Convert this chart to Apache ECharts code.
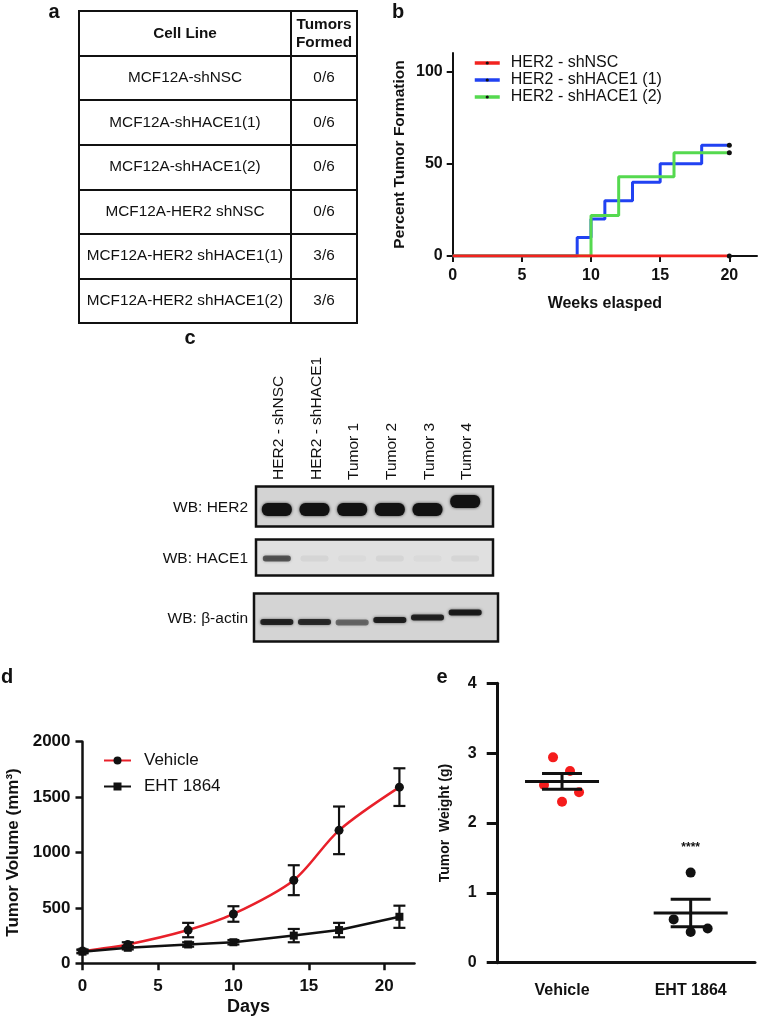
<!DOCTYPE html>
<html><head><meta charset="utf-8">
<script src="https://cdn.jsdelivr.net/npm/echarts@6/dist/echarts.min.js"></script>
<style>html,body{margin:0;padding:0;background:#fff}#c{width:758px;height:1020px}</style>
</head><body><div id="c"></div>
<script>
// ---------- Panel a : table ----------
const tableHeader = ['Cell Line', 'Tumors\nFormed'];
const cellLines = ['MCF12A-shNSC', 'MCF12A-shHACE1(1)', 'MCF12A-shHACE1(2)', 'MCF12A-HER2 shNSC', 'MCF12A-HER2 shHACE1(1)', 'MCF12A-HER2 shHACE1(2)'];
const tumorsFormed = ['0/6', '0/6', '0/6', '0/6', '3/6', '3/6'];

// ---------- Panel b : tumor formation ----------
const seriesNamesB = ['HER2 - shNSC', 'HER2 - shHACE1 (1)', 'HER2 - shHACE1 (2)'];
const weeksShNSC = [0, 20];
const pctShNSC = [0, 0];
const weeksSh1 = [0, 9, 10, 11, 13, 15, 18, 20];
const pctSh1 = [0, 10, 20, 30, 40, 50, 60, 60];
const weeksSh2 = [0, 10, 12, 16, 20];
const pctSh2 = [0, 22, 43, 56, 56];
const weekTicks = [0, 5, 10, 15, 20];
const pctTicks = [0, 50, 100];

// ---------- Panel c : western blot ----------
const lanes = ['HER2 - shNSC', 'HER2 - shHACE1', 'Tumor 1', 'Tumor 2', 'Tumor 3', 'Tumor 4'];
const blots = ['WB: HER2', 'WB: HACE1', 'WB: β-actin'];
const bandHER2 = [1, 1, 1, 1, 1, 1];
const bandHACE1 = [0.6, 0.05, 0.03, 0.05, 0.03, 0.05];
const bandActin = [0.85, 0.8, 0.5, 0.88, 0.85, 0.9];

// ---------- Panel d : tumor volume ----------
const seriesNamesD = ['Vehicle', 'EHT 1864'];
const days = [0, 3, 7, 10, 14, 17, 21];
const volVehicle = [110, 170, 300, 445, 750, 1200, 1590];
const semVehicle = [15, 20, 65, 70, 135, 215, 170];
const volEHT = [105, 140, 170, 190, 250, 300, 420];
const semEHT = [15, 15, 20, 20, 60, 65, 100];
const dayTicks = [0, 5, 10, 15, 20];

// ---------- Panel e : tumor weight ----------
const groups = ['Vehicle', 'EHT 1864'];
const weightVehicle = [2.94, 2.745, 2.544, 2.44, 2.305];
const weightEHT = [1.29, 0.62, 0.44, 0.49];
const sigText = ['', '****'];
const sigY = [null, 1.65];

// ---------- styles ----------
const FONT = 'Liberation Sans, Arial, Helvetica, sans-serif';
const INK = '#111';
const vehSwarmPx = [-9, 8, -18, 17, 0];
const ehtSwarmPx = [0, -17, 0, 17];
// blot drawing style (pixel offsets / sizes of the scanned membranes)
const blotStyle = [
  { dy: 0, h: 40, x0: -2, x1: 9, fill: '#d3d3d3', bandH: 13, bandW: 30, bandDy: [3, 3, 3, 3, 3, -5] },
  { dy: 0, h: 36, x0: -2, x1: 9, fill: '#e0e0e0', bandH: 6, bandW: 28, bandDy: [1, 1, 1, 1, 1, 1] },
  { dy: 9, h: 48, x0: -4, x1: 14, fill: '#d4d4d4', bandH: 6, bandW: 33, bandDy: [4.5, 4.5, 5, 2.5, 0, -5] }
];

function mean(a) { return a.reduce((s, v) => s + v, 0) / a.length; }
function sem(a) {
  const m = mean(a);
  const sd = Math.sqrt(a.reduce((s, v) => s + (v - m) * (v - m), 0) / (a.length - 1));
  return sd / Math.sqrt(a.length);
}

const chart = echarts.init(document.getElementById('c'), null, { renderer: 'canvas' });

const col1Texts = [tableHeader[0]].concat(cellLines);
const col2Texts = [tableHeader[1]].concat(tumorsFormed);
const rowIdx = col1Texts.map((_, i) => String(i));

function tableTextSeries(gi, texts) {
  return {
    type: 'custom', xAxisIndex: gi, yAxisIndex: gi, silent: true,
    data: texts.map((_, i) => [0, i]),
    renderItem: function (params, api) {
      const p = api.coord([api.value(0), api.value(1)]);
      const i = params.dataIndex;
      return {
        type: 'text', x: p[0], y: p[1],
        style: {
          text: texts[i], align: 'center', verticalAlign: 'middle',
          fontSize: 15.3, fontWeight: i === 0 ? 'bold' : 'normal',
          fontFamily: FONT, fill: INK, lineHeight: 18
        }
      };
    }
  };
}

function tableY(gi) {
  return {
    gridIndex: gi, type: 'category', data: rowIdx, inverse: true,
    axisLine: { show: false }, axisTick: { show: false }, axisLabel: { show: false },
    splitLine: { show: true, interval: 0, lineStyle: { color: INK, width: 2 } }
  };
}

function stepData(xs, ys) {
  return xs.map((x, i) => i === xs.length - 1
    ? { value: [x, ys[i]], symbol: 'circle', symbolSize: 5 }
    : { value: [x, ys[i]], symbol: 'none' });
}

function errSeries(xs, ys, es) {
  return {
    type: 'custom', xAxisIndex: 4, yAxisIndex: 4, silent: true, z: 4,
    data: xs.map((x, i) => [x, ys[i], es[i]]),
    renderItem: function (params, api) {
      const x = api.value(0), y = api.value(1), e = api.value(2);
      const t = api.coord([x, y + e]), b = api.coord([x, y - e]);
      const st = { stroke: INK, lineWidth: 2.2 };
      return {
        type: 'group', children: [
          { type: 'line', shape: { x1: t[0], y1: t[1], x2: b[0], y2: b[1] }, style: st },
          { type: 'line', shape: { x1: t[0] - 6, y1: t[1], x2: t[0] + 6, y2: t[1] }, style: st },
          { type: 'line', shape: { x1: b[0] - 6, y1: b[1], x2: b[0] + 6, y2: b[1] }, style: st }
        ]
      };
    }
  };
}

const bandRows = [bandHER2, bandHACE1, bandActin];
const bandData = [];
bandRows.forEach((row, b) => row.forEach((v, l) => bandData.push([l, b, v])));

const boldLabel = (size, margin) => ({ color: INK, fontFamily: FONT, fontWeight: 'bold', fontSize: size, margin: margin });

const statsE = [weightVehicle, weightEHT].map((a, g) => [g, mean(a), sem(a)]);

const option = {
  animation: false,
  backgroundColor: '#fff',
  textStyle: { fontFamily: FONT },
  grid: [
    { left: 79, top: 11, width: 212, height: 312, show: true, borderColor: INK, borderWidth: 2, backgroundColor: 'transparent' },
    { left: 291, top: 11, width: 66, height: 312, show: true, borderColor: INK, borderWidth: 2, backgroundColor: 'transparent' },
    { left: 452.7, top: 53, width: 304.3, height: 203 },
    { left: 258, top: 481, width: 226, height: 153 },
    { left: 82.5, top: 741.7, width: 332, height: 221.6 },
    { left: 497.7, top: 683.3, width: 257.3, height: 279.4 }
  ],
  xAxis: [
    { gridIndex: 0, type: 'category', data: ['c'], show: false },
    { gridIndex: 1, type: 'category', data: ['c'], show: false },
    {
      gridIndex: 2, type: 'value', min: 0, max: 22,
      axisLine: { lineStyle: { color: INK, width: 2 } },
      axisTick: { customValues: weekTicks, length: 6, lineStyle: { color: INK, width: 2 } },
      axisLabel: Object.assign({ customValues: weekTicks }, boldLabel(16, 12)),
      splitLine: { show: false },
      name: 'Weeks elasped', nameLocation: 'middle', nameGap: 40,
      nameTextStyle: { color: INK, fontFamily: FONT, fontWeight: 'bold', fontSize: 16 }
    },
    {
      gridIndex: 3, type: 'category', data: lanes, position: 'top',
      axisLine: { show: false }, axisTick: { show: false }, axisLabel: { show: false },
      splitLine: { show: false }
    },
    {
      gridIndex: 4, type: 'value', min: 0, max: 22,
      axisLine: { lineStyle: { color: INK, width: 2.5 } },
      axisTick: { customValues: dayTicks, length: 7, lineStyle: { color: INK, width: 2.5 } },
      axisLabel: Object.assign({ customValues: dayTicks }, boldLabel(17, 15)),
      splitLine: { show: false },
      name: 'Days', nameLocation: 'middle', nameGap: 35,
      nameTextStyle: { color: INK, fontFamily: FONT, fontWeight: 'bold', fontSize: 18 }
    },
    {
      gridIndex: 5, type: 'category', data: groups, boundaryGap: true,
      axisLine: { lineStyle: { color: INK, width: 3 } },
      axisTick: { alignWithLabel: true, length: 8, lineStyle: { color: INK, width: 3 } },
      axisLabel: boldLabel(16, 20),
      splitLine: { show: false }
    }
  ],
  yAxis: [
    tableY(0), tableY(1),
    {
      gridIndex: 2, type: 'value', min: 0, max: 110,
      axisLine: { show: true, lineStyle: { color: INK, width: 2 } },
      axisTick: { show: true, customValues: pctTicks, length: 6, lineStyle: { color: INK, width: 2 } },
      axisLabel: Object.assign({ customValues: pctTicks }, boldLabel(16, 10)),
      splitLine: { show: false },
      name: 'Percent Tumor Formation', nameLocation: 'middle', nameGap: 45,
      nameTextStyle: { color: INK, fontFamily: FONT, fontWeight: 'bold', fontSize: 15.5 }
    },
    {
      gridIndex: 3, type: 'category', data: blots, inverse: true,
      axisLine: { show: false }, axisTick: { show: false }, axisLabel: { show: false },
      splitLine: { show: false }
    },
    {
      gridIndex: 4, type: 'value', min: 0, max: 2000, interval: 500,
      axisLine: { show: true, lineStyle: { color: INK, width: 2.5 } },
      axisTick: { show: true, length: 7, lineStyle: { color: INK, width: 2.5 } },
      axisLabel: Object.assign({ formatter: v => String(v) }, boldLabel(17, 12)),
      splitLine: { show: false },
      name: 'Tumor Volume (mm³)', nameLocation: 'middle', nameGap: 61,
      nameTextStyle: { color: INK, fontFamily: FONT, fontWeight: 'bold', fontSize: 17 }
    },
    {
      gridIndex: 5, type: 'value', min: 0, max: 4, interval: 1,
      axisLine: { show: true, lineStyle: { color: INK, width: 3 } },
      axisTick: { show: true, length: 11, lineStyle: { color: INK, width: 3 } },
      axisLabel: boldLabel(16, 21),
      splitLine: { show: false },
      name: 'Tumor  Weight (g)', nameLocation: 'middle', nameGap: 46,
      nameTextStyle: { color: INK, fontFamily: FONT, fontWeight: 'bold', fontSize: 14 }
    }
  ],
  legend: [
    {
      data: seriesNamesB, left: 473, top: 55, orient: 'vertical',
      itemWidth: 25, itemHeight: 4, itemGap: 1, padding: 0,
      lineStyle: { width: 3.5 },
      textStyle: { color: INK, fontFamily: FONT, fontSize: 16, lineHeight: 16, padding: [0, 0, 0, 6] }
    },
    {
      data: seriesNamesD, left: 103, top: 752, orient: 'vertical',
      itemWidth: 27, itemHeight: 10, itemGap: 9, padding: 0,
      textStyle: { color: INK, fontFamily: FONT, fontSize: 17, lineHeight: 17, padding: [0, 0, 0, 8] }
    }
  ],
  graphic: [
    ['a', 54, 12], ['b', 398, 12], ['c', 190, 338], ['d', 7, 677], ['e', 442, 677]
  ].map(p => ({
    type: 'text', x: p[1], y: p[2],
    style: { text: p[0], fontFamily: FONT, fontWeight: 'bold', fontSize: 20, fill: INK, align: 'center', verticalAlign: 'middle' }
  })),
  series: [
    // table
    tableTextSeries(0, col1Texts),
    tableTextSeries(1, col2Texts),
    // panel b
    {
      name: seriesNamesB[1], type: 'line', xAxisIndex: 2, yAxisIndex: 2, step: 'end',
      data: stepData(weeksSh1, pctSh1), symbol: 'circle', symbolSize: 5, showSymbol: true,
      lineStyle: { color: '#2142f2', width: 3 }, itemStyle: { color: INK }, z: 2
    },
    {
      name: seriesNamesB[2], type: 'line', xAxisIndex: 2, yAxisIndex: 2, step: 'end',
      data: stepData(weeksSh2, pctSh2), symbol: 'circle', symbolSize: 5, showSymbol: true,
      lineStyle: { color: '#55d94f', width: 3 }, itemStyle: { color: INK }, z: 2
    },
    {
      name: seriesNamesB[0], type: 'line', xAxisIndex: 2, yAxisIndex: 2, step: 'end',
      data: stepData(weeksShNSC, pctShNSC), symbol: 'circle', symbolSize: 5, showSymbol: true,
      lineStyle: { color: '#f2231f', width: 3 }, itemStyle: { color: INK }, z: 3
    },
    // panel c lane labels
    {
      type: 'custom', xAxisIndex: 3, yAxisIndex: 3, silent: true, z: 3,
      data: lanes.map((_, l) => [l, 0]),
      renderItem: function (params, api) {
        const p = api.coord([api.value(0), 0]);
        return {
          type: 'text', x: p[0] + 2, y: params.coordSys.y - 1, rotation: Math.PI / 2,
          style: { text: lanes[params.dataIndex], align: 'left', verticalAlign: 'middle', fontFamily: FONT, fontSize: 15.5, fill: INK }
        };
      }
    },
    // panel c boxes + blot labels
    {
      type: 'custom', xAxisIndex: 3, yAxisIndex: 3, silent: true, z: 1,
      data: blots.map((_, b) => [0, b]),
      renderItem: function (params, api) {
        const cs = params.coordSys;
        const b = params.dataIndex;
        const s = blotStyle[b];
        const p = api.coord([0, api.value(1)]);
        const cy = p[1] + s.dy;
        return {
          type: 'group', children: [
            {
              type: 'rect',
              shape: { x: cs.x + s.x0, y: cy - s.h / 2, width: cs.width - s.x0 + s.x1, height: s.h },
              style: { fill: s.fill, stroke: INK, lineWidth: 2.5 }
            },
            {
              type: 'text', x: cs.x - 10, y: cy + 1,
              style: { text: blots[b], align: 'right', verticalAlign: 'middle', fontFamily: FONT, fontSize: 15.5, fill: INK }
            }
          ]
        };
      }
    },
    // panel c bands
    {
      type: 'custom', xAxisIndex: 3, yAxisIndex: 3, silent: true, z: 2,
      data: bandData,
      renderItem: function (params, api) {
        const l = api.value(0), b = api.value(1), v = api.value(2);
        const s = blotStyle[b];
        const p = api.coord([l, b]);
        const h = s.bandH, w = s.bandW;
        const cy = p[1] + s.dy + s.bandDy[l];
        return {
          type: 'rect',
          shape: { x: p[0] - w / 2, y: cy - h / 2, width: w, height: h, r: h / 2.2 },
          style: { fill: 'rgba(18,18,18,' + v + ')', shadowBlur: 3, shadowColor: 'rgba(18,18,18,' + (v * 0.8) + ')' }
        };
      }
    },
    // panel d
    {
      name: seriesNamesD[0], type: 'line', xAxisIndex: 4, yAxisIndex: 4, smooth: 0.3,
      data: days.map((d, i) => [d, volVehicle[i]]), symbol: 'circle', symbolSize: 9,
      lineStyle: { color: '#e8202a', width: 2.5 }, itemStyle: { color: INK }, z: 3
    },
    {
      name: seriesNamesD[1], type: 'line', xAxisIndex: 4, yAxisIndex: 4,
      data: days.map((d, i) => [d, volEHT[i]]), symbol: 'rect', symbolSize: 8,
      lineStyle: { color: INK, width: 2.5 }, itemStyle: { color: INK }, z: 3
    },
    errSeries(days, volVehicle, semVehicle),
    errSeries(days, volEHT, semEHT),
    // panel e
    {
      type: 'scatter', xAxisIndex: 5, yAxisIndex: 5, symbol: 'circle', symbolSize: 10,
      data: weightVehicle.map((w, i) => ({ value: [0, w], symbolOffset: [vehSwarmPx[i], 0] })),
      itemStyle: { color: '#f51c1c', opacity: 1 }, z: 2
    },
    {
      type: 'scatter', xAxisIndex: 5, yAxisIndex: 5, symbol: 'circle', symbolSize: 10,
      data: weightEHT.map((w, i) => ({ value: [1, w], symbolOffset: [ehtSwarmPx[i], 0] })),
      itemStyle: { color: INK, opacity: 1 }, z: 2
    },
    {
      type: 'custom', xAxisIndex: 5, yAxisIndex: 5, silent: true, z: 5,
      data: statsE,
      renderItem: function (params, api) {
        const g = api.value(0), m = api.value(1), s = api.value(2);
        const c = api.coord([g, m]), t = api.coord([g, m + s]), b = api.coord([g, m - s]);
        const st = { stroke: INK, lineWidth: 3 };
        const children = [
          { type: 'line', shape: { x1: c[0] - 37, y1: c[1], x2: c[0] + 37, y2: c[1] }, style: st },
          { type: 'line', shape: { x1: t[0], y1: t[1], x2: b[0], y2: b[1] }, style: st },
          { type: 'line', shape: { x1: t[0] - 20, y1: t[1], x2: t[0] + 20, y2: t[1] }, style: st },
          { type: 'line', shape: { x1: b[0] - 20, y1: b[1], x2: b[0] + 20, y2: b[1] }, style: st }
        ];
        if (sigText[g]) {
          const q = api.coord([g, sigY[g]]);
          children.push({ type: 'text', x: q[0], y: q[1], style: { text: sigText[g], align: 'center', verticalAlign: 'middle', fontFamily: FONT, fontWeight: 'bold', fontSize: 12, fill: INK } });
        }
        return { type: 'group', children: children };
      }
    }
  ]
};

chart.setOption(option);
</script>
</body></html>
